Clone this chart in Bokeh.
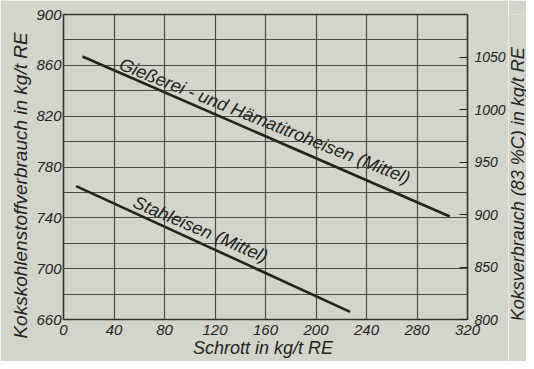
import math
from bokeh.plotting import figure
from bokeh.layouts import row
from bokeh.models import Range1d, LinearAxis, FixedTicker
from bokeh.core.properties import value
from bokeh.embed import file_html
from bokeh.resources import INLINE

# ---- data ----
x_ticks = [0, 40, 80, 120, 160, 200, 240, 280, 320]
y_ticks_left = [660, 700, 740, 780, 820, 860, 900]
y_grid = [660, 680, 700, 720, 740, 760, 780, 800, 820, 840, 860, 880, 900]
y_ticks_right = [800, 850, 900, 950, 1000, 1050]

giesserei_x = [15, 306]
giesserei_y = [867, 741]
stahl_x = [10, 227]
stahl_y = [765, 666]

label_giess = "Gießerei - und Hämatitroheisen (Mittel)"
label_stahl = "Stahleisen (Mittel)"
x_label = "Schrott  in kg/t RE"
y_label_left = "Kokskohlenstoffverbrauch  in kg/t RE"
y_label_right = "Koksverbrauch (83 %C) in kg/t RE"

carbon_share = 0.825  # left scale = right scale * share

# ---- styling ----
BG = "#d3d4ca"
INK = "#24241f"
GRID = "#4b4c45"
FONT = "Liberation Sans"
NBSP = "\u00a0"

p = figure(width=508, height=361, output_backend="svg", toolbar_location=None,
           x_range=Range1d(0, 320), y_range=Range1d(660, 900),
           min_border_left=63, min_border_right=38, min_border_top=14, min_border_bottom=42)
p.background_fill_color = BG
p.border_fill_color = BG
p.outline_line_color = "#33342e"
p.outline_line_width = 1.6

p.extra_y_ranges = {"koks": Range1d(660 / carbon_share, 900 / carbon_share)}

p.xgrid.ticker = FixedTicker(ticks=x_ticks)
p.ygrid.ticker = FixedTicker(ticks=y_grid)
for g in (p.xgrid, p.ygrid):
    g.grid_line_color = GRID
    g.grid_line_width = 1.2
    g.grid_line_alpha = 1.0

def style_axis(ax, size="15px"):
    ax.axis_line_color = None
    ax.major_tick_line_color = None
    ax.minor_tick_line_color = None
    ax.major_tick_in = 0
    ax.major_tick_out = 0
    ax.major_label_text_font = FONT
    ax.major_label_text_font_style = "italic"
    ax.major_label_text_font_size = size
    ax.major_label_text_color = INK
    ax.axis_label_text_font = FONT
    ax.axis_label_text_font_style = "italic"
    ax.axis_label_text_font_size = "19px"
    ax.axis_label_text_color = INK

xa = p.xaxis[0]
style_axis(xa)
xa.ticker = FixedTicker(ticks=x_ticks)
xa.major_label_standoff = 5
xa.axis_label = x_label
xa.axis_label_text_font_size = "18px"
xa.axis_label_standoff = 0

ya = p.yaxis[0]
style_axis(ya)
ya.ticker = FixedTicker(ticks=y_ticks_left)
ya.major_label_standoff = 2
ya.axis_label = y_label_left + NBSP * 6
ya.axis_label_standoff = 2

ra = LinearAxis(y_range_name="koks", ticker=FixedTicker(ticks=y_ticks_right))
style_axis(ra, "14px")
ra.major_tick_line_color = INK
ra.major_tick_line_width = 1.2
ra.major_tick_in = 8
ra.major_tick_out = 0
ra.major_label_standoff = 7
p.add_layout(ra, "right")

p.line(giesserei_x, giesserei_y, line_color=INK, line_width=2.6)
p.line(stahl_x, stahl_y, line_color=INK, line_width=2.6)

p.text(x=[45], y=[861.5], text=[label_giess], angle=-0.38,
       text_font=value(FONT), text_font_style="italic", text_font_size="18px",
       text_color=INK, text_align="left", text_baseline="alphabetic")
p.text(x=[56], y=[753], text=[label_stahl], angle=-0.40,
       text_font=value(FONT), text_font_style="italic", text_font_size="18px",
       text_color=INK, text_align="left", text_baseline="alphabetic")

# narrow strip on the right carrying the right axis title (reads bottom-to-top)
q = figure(width=18, height=361, output_backend="svg", toolbar_location=None,
           x_axis_location=None, y_axis_location=None,
           x_range=Range1d(0, 18), y_range=Range1d(0, 361),
           min_border_left=0, min_border_right=0, min_border_top=0, min_border_bottom=0)
q.grid.visible = False
q.outline_line_color = None
q.background_fill_color = BG
q.border_fill_color = BG
q.text(x=[9], y=[160], text=[y_label_right], angle=math.pi / 2,
       text_font=value(FONT), text_font_style="italic", text_font_size="18px",
       text_color=INK, text_align="center", text_baseline="middle")

layout = row(p, q, spacing=0)
open("out.html", "w").write(file_html(layout, INLINE))
